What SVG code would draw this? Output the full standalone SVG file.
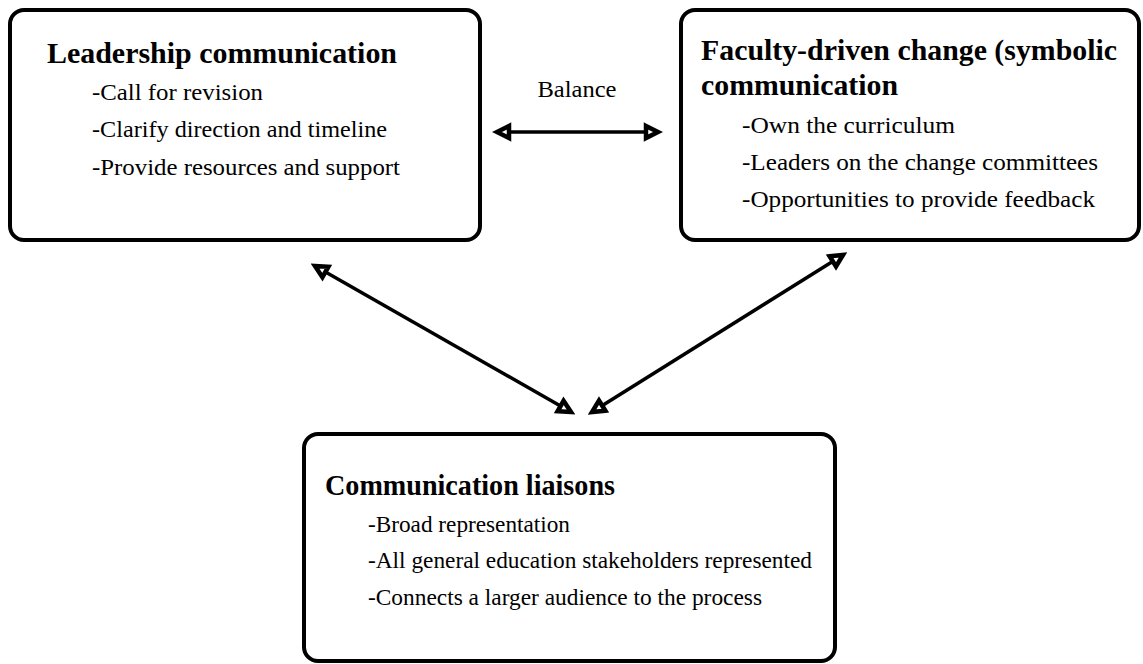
<svg xmlns="http://www.w3.org/2000/svg" width="1143" height="664" viewBox="0 0 1143 664">
<style>
.box{fill:#fff;stroke:#000;stroke-width:4}
text{font-family:'Liberation Serif','Times New Roman',Times,serif;fill:#000}
.h{font-size:29px;font-weight:bold}
.b{font-size:24px}
.c{fill:none;stroke:#000;stroke-width:3.5}
</style>
<defs>
<marker id="ah" viewBox="-3 -3 22 22" refX="14" refY="8" markerWidth="22" markerHeight="22" markerUnits="userSpaceOnUse" orient="auto-start-reverse">
<polygon points="2,2 14,8 2,14" fill="#fff" stroke="#000" stroke-width="4.5" stroke-linejoin="miter"/>
</marker>
</defs>
<rect width="1143" height="664" fill="#fff"/>
<g id="leadership">
<rect class="box" x="10" y="10" width="470" height="230" rx="14"/>
<text class="h" x="47" y="63" textLength="350" lengthAdjust="spacingAndGlyphs">Leadership communication</text>
<text class="b" x="92" y="100" textLength="171" lengthAdjust="spacingAndGlyphs">-Call for revision</text>
<text class="b" x="92" y="137" textLength="295" lengthAdjust="spacingAndGlyphs">-Clarify direction and timeline</text>
<text class="b" x="92" y="175" textLength="308" lengthAdjust="spacingAndGlyphs">-Provide resources and support</text>
</g>
<g id="faculty">
<rect class="box" x="681" y="10" width="458" height="230" rx="14"/>
<text class="h" x="701" y="60" textLength="416" lengthAdjust="spacingAndGlyphs">Faculty-driven change (symbolic</text>
<text class="h" x="701" y="95" textLength="197" lengthAdjust="spacingAndGlyphs">communication</text>
<text class="b" x="742" y="133" textLength="213" lengthAdjust="spacingAndGlyphs">-Own the curriculum</text>
<text class="b" x="742" y="170" textLength="356" lengthAdjust="spacingAndGlyphs">-Leaders on the change committees</text>
<text class="b" x="742" y="207" textLength="353" lengthAdjust="spacingAndGlyphs">-Opportunities to provide feedback</text>
</g>
<g id="liaisons">
<rect class="box" x="304" y="434" width="531" height="227" rx="14"/>
<text class="h" x="325" y="495" textLength="290" lengthAdjust="spacingAndGlyphs">Communication liaisons</text>
<text class="b" x="368" y="532" textLength="202" lengthAdjust="spacingAndGlyphs">-Broad representation</text>
<text class="b" x="368" y="568" textLength="444" lengthAdjust="spacingAndGlyphs">-All general education stakeholders represented</text>
<text class="b" x="368" y="605" textLength="394" lengthAdjust="spacingAndGlyphs">-Connects a larger audience to the process</text>
</g>
<g id="connectors">
<line class="c" x1="497" y1="132" x2="658" y2="132" marker-start="url(#ah)" marker-end="url(#ah)"/>
<text class="b" x="577" y="97" text-anchor="middle" textLength="79" lengthAdjust="spacingAndGlyphs">Balance</text>
<line class="c" x1="315" y1="266" x2="571" y2="412" marker-start="url(#ah)" marker-end="url(#ah)"/>
<line class="c" x1="843" y1="255" x2="592" y2="412" marker-start="url(#ah)" marker-end="url(#ah)"/>
</g>
</svg>
